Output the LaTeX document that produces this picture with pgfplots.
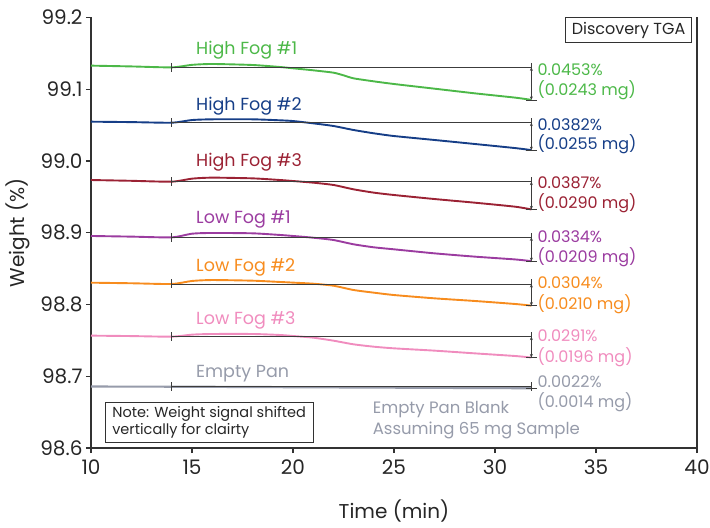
\documentclass[border=0pt]{standalone}
\usepackage{pgfplots}
\pgfplotsset{compat=1.18}
\usepackage{fontspec}
\setmainfont{Poppins}
\usetikzlibrary{arrows.meta}
\definecolor{cgreen}{RGB}{76,184,72}
\definecolor{cblue}{RGB}{22,62,135}
\definecolor{cred}{RGB}{155,34,52}
\definecolor{cpurple}{RGB}{155,60,160}
\definecolor{corange}{RGB}{247,140,30}
\definecolor{cpink}{RGB}{240,140,190}
\definecolor{cgrey}{RGB}{150,155,170}
\definecolor{axgrey}{RGB}{50,50,50}
\definecolor{refgrey}{RGB}{60,60,60}

\newcommand{\refann}[2]{%
  \addplot[refgrey, line width=0.7pt, mark=|, mark size=4.5pt, mark options={solid, line width=0.7pt}] coordinates {(14,#1) (31.8,#1)};
  \addplot[refgrey, line width=0.6pt, {Stealth[length=3.5pt,width=3pt]}-{Stealth[length=3.5pt,width=3pt]}] coordinates {(31.8,#1) (31.8,#2)};
  \addplot[refgrey, line width=0.7pt] coordinates {(31.55,#2) (32.1,#2)};
}

\begin{document}
\begin{tikzpicture}
\begin{axis}[
  name=ax,
  scale only axis, width=606pt, height=430.5pt,
  xmin=10, xmax=40, ymin=98.6, ymax=99.2,
  axis lines=left,
  axis line style={-, line width=1.6pt, color=axgrey},
  clip=false,
  xtick={10,15,20,25,30,35,40},
  ytick={98.6,98.7,98.8,98.9,99.0,99.1,99.2},
  /pgf/number format/assume math mode=true,
  yticklabel style={/pgf/number format/.cd, fixed, fixed zerofill, precision=1},
  xticklabel style={yshift=-3pt, /pgf/number format/.cd, fixed, precision=0},
  tick align=outside, major tick length=5pt,
  tick style={line width=1.2pt, color=axgrey},
  ticklabel style={font=\fontsize{20}{24}\selectfont, text=black!85},
  xlabel={Time (min)}, ylabel={Weight (\%)},
  every axis x label/.style={at={(axis description cs:0.5,0)}, yshift=-63pt, anchor=center, font=\fontsize{20}{24}\selectfont, text=black!85},
  every axis y label/.style={at={(axis description cs:0,0.5)}, xshift=-73pt, rotate=90, anchor=center, font=\fontsize{20}{24}\selectfont, text=black!85},
  every axis plot/.append style={line width=1.9pt},
]
% curves
\addplot[cgreen, smooth, tension=0.4] coordinates {
(10,99.1329) (12,99.1318) (14,99.1305) (15,99.1340) (16,99.1352) (18,99.1338) (19.36,99.1310) (20,99.1292) (21,99.1264) (22,99.1231) (22.5,99.1194) (23,99.1152) (24,99.1110) (25,99.1073) (27,99.1008) (29,99.0943) (31,99.0883) (31.8,99.0852)};
\addplot[cblue, smooth, tension=0.4] coordinates {
(10,99.0548) (12,99.0542) (14,99.0534) (15,99.0571) (16,99.0581) (18,99.0581) (19.36,99.0567) (20,99.0557) (21,99.0525) (22,99.0488) (23,99.0432) (24,99.0386) (25,99.0348) (27,99.0293) (29,99.0237) (31,99.0180) (31.8,99.0152)};
\addplot[cred, smooth, tension=0.4] coordinates {
(10,98.9735) (12,98.9724) (14,98.9712) (15,98.9754) (16,98.9768) (18,98.9758) (19.36,98.9735) (20,98.9721) (21,98.9698) (22,98.9666) (23,98.9605) (24,98.9559) (25,98.9526) (27,98.9470) (29,98.9419) (31,98.9363) (31.8,98.9325)};
\addplot[cpurple, smooth, tension=0.4] coordinates {
(10,98.8955) (12,98.8946) (14,98.8936) (15,98.8987) (16,98.8997) (18,98.8992) (19.36,98.8969) (20,98.8955) (21,98.8931) (22,98.8899) (23,98.8839) (24,98.8797) (25,98.8769) (27,98.8713) (29,98.8667) (31,98.8628) (31.8,98.8604)};
\addplot[corange, smooth, tension=0.4] coordinates {
(10,98.8304) (12,98.8296) (14,98.8286) (15,98.8328) (16,98.8341) (18,98.8332) (19.36,98.8314) (20,98.8305) (21,98.8290) (22,98.8262) (23,98.8202) (24,98.8165) (25,98.8132) (27,98.8086) (29,98.8049) (31,98.8007) (31.8,98.7984)};
\addplot[cpink, smooth, tension=0.4] coordinates {
(10,98.7566) (12,98.7560) (14,98.7552) (15,98.7580) (16,98.7589) (18,98.7589) (19.36,98.7575) (20,98.7561) (21,98.7538) (22,98.7496) (23,98.7445) (24,98.7412) (25,98.7389) (27,98.7357) (29,98.7319) (31,98.7282) (31.8,98.7261)};
\addplot[cgrey, line width=2.2pt] coordinates {
(10,98.6856) (14,98.6855) (18,98.6850) (22,98.6845) (26,98.6840) (31.8,98.6833)};

% reference annotations
\refann{99.1305}{99.0852}
\refann{99.0534}{99.0152}
\refann{98.9712}{98.9325}
\refann{98.8936}{98.8604}
\refann{98.8286}{98.7984}
\refann{98.7552}{98.7261}
\addplot[refgrey, line width=0.7pt, mark=|, mark size=4.5pt, mark options={solid, line width=0.7pt}] coordinates {(14,98.6855) (31.8,98.6855)};
\addplot[refgrey, line width=0.7pt] coordinates {(31.55,98.6833) (32.1,98.6833)};

% right spine
\draw[line width=1.6pt, axgrey] (rel axis cs:1,0) -- (rel axis cs:1,1);

% curve labels
\begin{scope}[every node/.style={anchor=west, inner sep=0pt, font=\fontsize{17.5}{20}\selectfont}]
\node[text=cgreen] at (axis cs:15.2,99.1547) {High Fog \#1};
\node[text=cblue] at (axis cs:15.2,99.0767) {High Fog \#2};
\node[text=cred] at (axis cs:15.2,98.9990) {High Fog \#3};
\node[text=cpurple] at (axis cs:15.2,98.9190) {Low Fog \#1};
\node[text=corange] at (axis cs:15.2,98.8518) {Low Fog \#2};
\node[text=cpink] at (axis cs:15.2,98.7774) {Low Fog \#3};
\node[text=cgrey] at (axis cs:15.2,98.7041) {Empty Pan};
\end{scope}

% right value labels
\begin{scope}[every node/.style={anchor=west, inner sep=0pt, font=\fontsize{16}{19}\selectfont}]
\node[text=cgreen] at (axis cs:32.1,99.1268) {0.0453\%};
\node[text=cgreen] at (axis cs:32.1,99.0990) {(0.0243 mg)};
\node[text=cblue] at (axis cs:32.1,99.0502) {0.0382\%};
\node[text=cblue] at (axis cs:32.1,99.0237) {(0.0255 mg)};
\node[text=cred] at (axis cs:32.1,98.9693) {0.0387\%};
\node[text=cred] at (axis cs:32.1,98.9415) {(0.0290 mg)};
\node[text=cpurple] at (axis cs:32.1,98.8945) {0.0334\%};
\node[text=cpurple] at (axis cs:32.1,98.8662) {(0.0209 mg)};
\node[text=corange] at (axis cs:32.1,98.8300) {0.0304\%};
\node[text=corange] at (axis cs:32.1,98.8007) {(0.0210 mg)};
\node[text=cpink] at (axis cs:32.1,98.7561) {0.0291\%};
\node[text=cpink] at (axis cs:32.1,98.7272) {(0.0196 mg)};
\node[text=cgrey] at (axis cs:32.1,98.6924) {0.0022\%};
\node[text=cgrey] at (axis cs:32.1,98.6645) {(0.0014 mg)};
\node[text=cgrey, font=\fontsize{16.5}{19}\selectfont] at (axis cs:23.94,98.6530) {Empty Pan Blank};
\node[text=cgrey, font=\fontsize{16.5}{19}\selectfont] at (axis cs:23.94,98.6241) {Assuming 65 mg Sample};
\end{scope}

% boxes
\node[draw=axgrey, line width=0.8pt, text=black!85, anchor=south west, align=left,
  inner xsep=7pt, inner ysep=4pt, font=\fontsize{14.5}{17.7}\selectfont]
  at (axis cs:10.69,98.607) {Note: Weight signal shifted\\vertically for clairty};
\node[draw=axgrey, line width=0.8pt, text=black!85, anchor=north east,
  inner xsep=6pt, inner ysep=4pt, font=\fontsize{16}{19}\selectfont]
  at (axis cs:39.74,99.2) {Discovery TGA};
\end{axis}
\pgfresetboundingbox
\path[use as bounding box] ([shift={(-91pt,-79pt)}]ax.south west) rectangle ([shift={(13pt,17.5pt)}]ax.north east);
\end{tikzpicture}
\end{document}
